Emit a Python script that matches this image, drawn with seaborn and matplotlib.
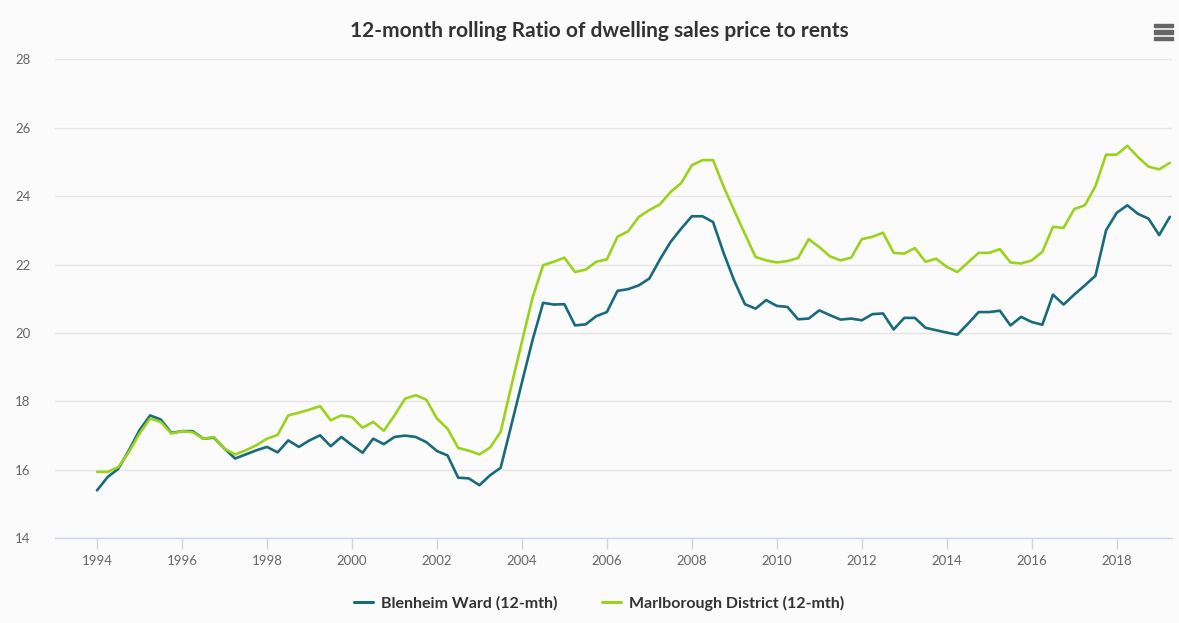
import numpy as np
import pandas as pd
import seaborn as sns
import matplotlib.pyplot as plt
from matplotlib.patches import Rectangle

# quarterly points, 1994 Q1 .. 2019 Q2
quarters = np.arange(1994, 2019.5, 0.25)

blenheim = [
    15.40, 15.79, 16.03, 16.57,
    17.16, 17.59, 17.47, 17.08,
    17.13, 17.13, 16.91, 16.94,
    16.62, 16.33, 16.45, 16.57,
    16.67, 16.51, 16.86, 16.67,
    16.86, 17.01, 16.69, 16.96,
    16.72, 16.50, 16.91, 16.75,
    16.96, 17.00, 16.96, 16.81,
    16.55, 16.42, 15.77, 15.75,
    15.55, 15.84, 16.06, 17.30,
    18.55, 19.79, 20.88, 20.83,
    20.84, 20.22, 20.25, 20.49,
    20.61, 21.23, 21.28, 21.39,
    21.59, 22.15, 22.66, 23.05,
    23.41, 23.41, 23.24, 22.33,
    21.52, 20.84, 20.71, 20.96,
    20.79, 20.76, 20.40, 20.42,
    20.66, 20.52, 20.39, 20.42,
    20.37, 20.55, 20.57, 20.10,
    20.44, 20.44, 20.15, 20.08,
    20.01, 19.95, 20.27, 20.61,
    20.61, 20.65, 20.22, 20.47,
    20.32, 20.24, 21.12, 20.83,
    21.12, 21.39, 21.67, 23.00,
    23.51, 23.73, 23.48, 23.34,
    22.86, 23.39,
]

marlborough = [
    15.94, 15.94, 16.08, 16.52,
    17.06, 17.50, 17.40, 17.06,
    17.13, 17.10, 16.91, 16.96,
    16.62, 16.45, 16.57, 16.72,
    16.91, 17.02, 17.59, 17.67,
    17.76, 17.86, 17.45, 17.59,
    17.54, 17.23, 17.40, 17.14,
    17.59, 18.08, 18.18, 18.05,
    17.50, 17.20, 16.64, 16.56,
    16.45, 16.65, 17.11, 18.44,
    19.74, 21.03, 21.98, 22.08,
    22.20, 21.78, 21.85, 22.08,
    22.15, 22.81, 22.97, 23.39,
    23.59, 23.76, 24.12, 24.38,
    24.90, 25.05, 25.05, 24.27,
    23.57, 22.89, 22.22, 22.12,
    22.06, 22.10, 22.19, 22.74,
    22.51, 22.24, 22.12, 22.20,
    22.74, 22.81, 22.93, 22.34,
    22.32, 22.48, 22.08, 22.17,
    21.93, 21.78, 22.06, 22.34,
    22.34, 22.45, 22.06, 22.03,
    22.12, 22.37, 23.10, 23.07,
    23.62, 23.73, 24.29, 25.21,
    25.21, 25.47, 25.14, 24.86,
    24.78, 24.97,
]

series_names = ["Blenheim Ward (12-mth)", "Marlborough District (12-mth)"]
series_colors = ["#176b7b", "#9bd31c"]
x_ticks = list(range(1994, 2019, 2))
y_ticks = list(range(14, 29, 2))

df = pd.concat([
    pd.DataFrame({"quarter": quarters, "ratio": blenheim, "series": series_names[0]}),
    pd.DataFrame({"quarter": quarters, "ratio": marlborough, "series": series_names[1]}),
])

sns.set_theme(style="white")
plt.rcParams["font.family"] = ["Lato", "DejaVu Sans"]

bg = "#fbfbfb"
fig = plt.figure(figsize=(11.79, 6.23), dpi=100, facecolor=bg)
ax = fig.add_axes([0.047, 0.136, 0.947, 0.769])
ax.set_facecolor(bg)

sns.lineplot(data=df, x="quarter", y="ratio", hue="series",
             palette=dict(zip(series_names, series_colors)),
             linewidth=1.9, ax=ax, legend=False)

ax.set_xlim(1993.02, 2019.3)
ax.set_ylim(14, 28)
ax.set_xticks(x_ticks)
ax.set_yticks(y_ticks)
ax.set_xlabel("")
ax.set_ylabel("")
ax.grid(axis="y", color="#e6e6e6", linewidth=1)
ax.set_axisbelow(True)
for s in ["top", "right", "left"]:
    ax.spines[s].set_visible(False)
ax.spines["bottom"].set_color("#ccd6eb")
ax.spines["bottom"].set_linewidth(1)
ax.tick_params(axis="x", colors="#ccd6eb", length=8, width=1, direction="out",
               labelcolor="#666666", labelsize=9.5, pad=4, bottom=True)
ax.tick_params(axis="y", length=0, labelcolor="#666666", labelsize=9.5, pad=18)

fig.text(0.508, 0.95, "12-month rolling Ratio of dwelling sales price to rents",
         ha="center", va="center", fontsize=15, color="#333333", fontweight="bold")

# menu icon
for dy in (0.0, 0.0105, 0.021):
    fig.add_artist(Rectangle((0.979, 0.935 + dy), 0.016, 0.006,
                             transform=fig.transFigure, color="#666666"))

handles = [plt.Line2D([], [], color=c, linewidth=2.2) for c in series_colors]
fig.legend(handles, series_names, loc="center", bbox_to_anchor=(0.508, 0.032),
           ncol=2, frameon=False, handlelength=1.2, handletextpad=0.5,
           columnspacing=2.8, prop={"weight": "bold", "size": 11.5},
           labelcolor="#333333")

fig.savefig("out.png", dpi=100, facecolor=bg)
